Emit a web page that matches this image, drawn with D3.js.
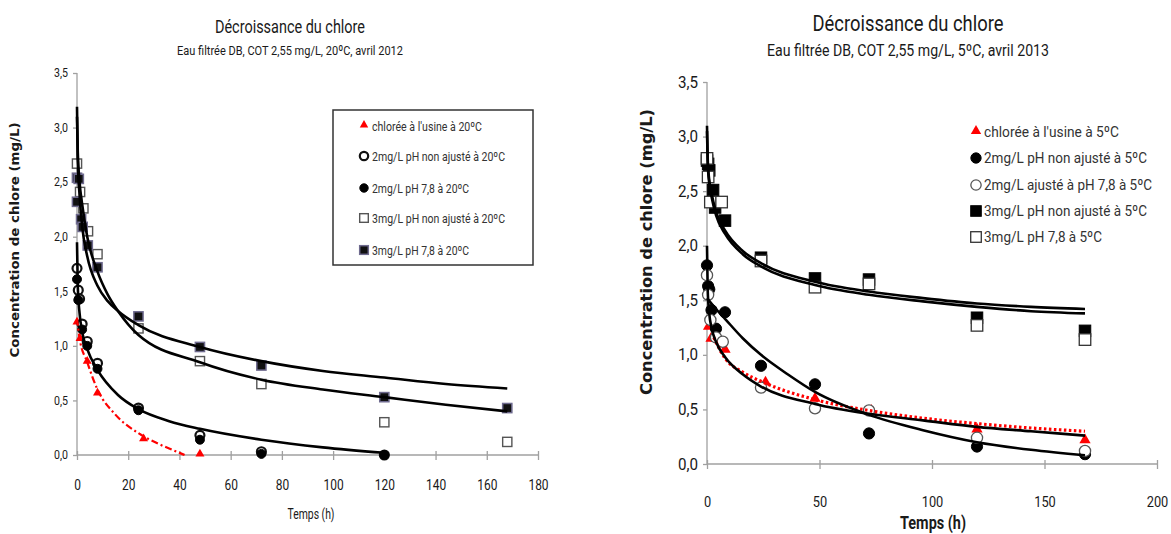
<!DOCTYPE html>
<meta charset="utf-8">
<style>
  body { margin: 0; background: #fff; }
  text { font-family: Roboto, "Liberation Sans", sans-serif; fill: #1a1a1a; }
  .axis path, .axis line { stroke: #a0a0a0; stroke-width: 1.3px; }
  .fit { fill: none; stroke: #000; stroke-width: 2.6px; }
  .ylab { font-family: "DejaVu Sans", Verdana, sans-serif; font-weight: bold; }
</style>
<svg width="1171" height="534"></svg>
<script src="https://cdn.jsdelivr.net/npm/d3@7"></script>
<script>

  // ---- 20 ºC, avril 2012 (left) ----
  var xTicks20 = [0, 20, 40, 60, 80, 100, 120, 140, 160, 180];
  var yTicks = [0, 0.5, 1, 1.5, 2, 2.5, 3, 3.5];

  var labels20 = ["chlorée à l'usine à 20ºC", "2mg/L pH non ajusté à 20ºC", "2mg/L pH 7,8 à 20ºC",
    "3mg/L pH non ajusté à 20ºC", "3mg/L pH 7,8 à 20ºC"];

  // measured points [hours, mg/L]
  var tri20 = [[0, 1.21], [1.2, 1.06], [4, 0.85], [8, 0.56], [26, 0.14], [48, 0.0]];
  var circOpen20 = [[0, 1.71], [0.5, 1.51], [1, 1.43], [2, 1.2], [4, 1.04], [8, 0.84], [24, 0.43], [48, 0.18], [72, 0.03], [120, 0.0]];
  var circFull20 = [[0, 1.61], [0.5, 1.42], [2, 1.15], [4, 1.0], [8, 0.79], [24, 0.41], [48, 0.14], [72, 0.01], [120, 0.0]];
  var sqOpen20 = [[0, 2.67], [1.2, 2.41], [2.5, 2.26], [4.3, 2.05], [8, 1.84], [24, 1.16], [48, 0.86], [72, 0.65], [120, 0.3], [168, 0.12]];
  var sqFull20 = [[0, 2.54], [0.7, 2.53], [0, 2.32], [1.6, 2.16], [2.2, 2.09], [4.2, 1.92], [8, 1.72], [24, 1.27], [48, 0.99], [72, 0.82], [120, 0.53], [168, 0.43]];

  // fitted curves
  var redFit20 = [[0, 1.25], [1, 1.07], [4, 0.85], [8, 0.6], [15, 0.37], [24, 0.2], [32, 0.1], [38, 0.04], [42, 0.0]];
  var circFit20 = [[0, 1.95], [0.3, 1.55], [1, 1.3], [2, 1.13], [4, 0.97], [8, 0.78], [16, 0.55], [24, 0.42], [36, 0.31], [48, 0.24], [72, 0.14], [96, 0.07], [120, 0.02]];
  var sqFitA20 = [[0, 3.19], [0.3, 2.7], [1, 2.38], [2, 2.1], [4, 1.82], [8, 1.55], [12, 1.41], [16, 1.32], [24, 1.19], [48, 0.99], [72, 0.86], [96, 0.77], [120, 0.71], [144, 0.65], [168, 0.61]];
  var sqFitB20 = [[0, 3.1], [0.3, 2.78], [1, 2.5], [2, 2.3], [4, 2.0], [8, 1.68], [12, 1.47], [16, 1.32], [24, 1.1], [48, 0.85], [72, 0.69], [96, 0.6], [120, 0.53], [144, 0.46], [168, 0.40]];

  // ---- 5 ºC, avril 2013 (right) ----
  var xTicks5 = [0, 50, 100, 150, 200];

  var labels5 = ["chlorée à l'usine à 5ºC", "2mg/L pH non ajusté à 5ºC", "2mg/L ajusté à pH 7,8 à 5ºC",
    "3mg/L pH non ajusté à 5ºC", "3mg/L pH 7,8 à 5ºC"];

  var tri5 = [[0.7, 1.25], [1.8, 1.14], [4, 1.14], [8, 1.04], [26, 0.74], [48, 0.59], [73, 0.48], [120, 0.31], [168, 0.21]];
  var circFull5 = [[0, 1.82], [0.5, 1.63], [1, 1.6], [2, 1.41], [4, 1.24], [8, 1.39], [24, 0.90], [48, 0.73], [72, 0.28], [120, 0.16], [168, 0.09]];
  var circOpen5 = [[0, 1.73], [0.5, 1.55], [1.5, 1.32], [4, 1.16], [7, 1.12], [24, 0.70], [48, 0.51], [72, 0.49], [120, 0.24], [168, 0.12]];
  var sqFull5 = [[0, 2.78], [0.5, 2.75], [1, 2.69], [2.7, 2.51], [3.6, 2.35], [8, 2.23], [24, 1.89], [48, 1.70], [72, 1.69], [120, 1.34], [168, 1.22]];
  var sqOpen5 = [[0, 2.80], [0.5, 2.63], [1.5, 2.4], [6.5, 2.4], [24, 1.86], [48, 1.62], [72, 1.65], [120, 1.27], [168, 1.14]];

  var redFit5 = [[3, 1.16], [8, 0.97], [16, 0.84], [26, 0.74], [48, 0.59], [72, 0.49], [96, 0.42], [120, 0.37], [144, 0.33], [168, 0.30]];
  var expFit5 = [[0, 1.52], [4, 1.42], [8, 1.33], [16, 1.15], [24, 1.0], [36, 0.82], [48, 0.66], [72, 0.45], [96, 0.31], [120, 0.2], [144, 0.13], [168, 0.08]];
  var powFit5 = [[0, 2.0], [0.3, 1.6], [1, 1.38], [2, 1.25], [4, 1.12], [8, 0.98], [16, 0.82], [24, 0.71], [48, 0.55], [72, 0.46], [96, 0.4], [120, 0.34], [144, 0.3], [168, 0.26]];
  var sqFitA5 = [[0, 3.1], [0.3, 2.8], [1, 2.6], [2, 2.48], [4, 2.31], [8, 2.14], [16, 1.95], [24, 1.84], [48, 1.67], [72, 1.58], [96, 1.52], [120, 1.47], [144, 1.44], [168, 1.42]];
  var sqFitB5 = [[0, 3.05], [0.3, 2.77], [1, 2.57], [2, 2.45], [4, 2.28], [8, 2.11], [16, 1.92], [24, 1.81], [48, 1.64], [72, 1.55], [96, 1.49], [120, 1.44], [144, 1.4], [168, 1.38]];

  var svg = d3.select("svg");
  var commaFmt = function (d) { return d.toFixed(1).replace(".", ","); };

  var panels = [
    {
      left: 77, right: 538, top: 73, bottom: 455, xDomain: [0, 180], xTicks: xTicks20,
      title: "Décroissance du chlore", titleY: 33, titleSize: 18, titleLen: 150,
      subtitle: "Eau filtrée DB, COT 2,55 mg/L, 20ºC, avril 2012", subY: 55, subSize: 13.5, subLen: 226, cx: 290,
      tickSize: 11, tickLen: 14, xTickSize: 14, xTickY: 490,
      xlab: { x: 311, y: 519, size: 14, bold: false, len: 47 },
      ylab: { x: 19, y: 240, size: 11.5, len: 235 },
      legendBox: [333, 110, 200, 155], legendX: 364, legendY: [126, 156, 188, 218, 250], legendSize: 13,
      legendLen: [110, 133, 97, 133, 97],
      markScale: 0.8, legendMark: 0.75,
      series: [
        { data: tri20, shape: "tri", fill: "#f00", stroke: "none", label: labels20[0] },
        { data: circOpen20, shape: "circle", fill: "#fff", stroke: "#111", sw: 2.2, label: labels20[1] },
        { data: circFull20, shape: "circle", fill: "#000", stroke: "#000", sw: 1, label: labels20[2] },
        { data: sqOpen20, shape: "square", fill: "#fff", stroke: "#555", sw: 1.4, label: labels20[3] },
        { data: sqFull20, shape: "square", fill: "#111", stroke: "#6e6a8e", sw: 1.5, label: labels20[4] }
      ],
      fits: [
        { data: redFit20, stroke: "#f00", dash: "7,3,2,3", width: 2.2 },
        { data: circFit20 }, { data: sqFitA20 }, { data: sqFitB20 }
      ]
    },
    {
      left: 707, right: 1157, top: 82, bottom: 464, xDomain: [0, 200], xTicks: xTicks5,
      title: "Décroissance du chlore", titleY: 31, titleSize: 22, titleLen: 191,
      subtitle: "Eau filtrée DB, COT 2,55 mg/L, 5ºC, avril 2013", subY: 56, subSize: 16.5, subLen: 282, cx: 908,
      tickSize: 15, tickLen: 20, xTickSize: 15, xTickY: 507,
      xlab: { x: 933, y: 529, size: 17.5, bold: true, len: 66 },
      ylab: { x: 652, y: 252, size: 15, len: 286 },
      legendBox: null, legendX: 976, legendY: [132, 158, 185, 211, 237], legendSize: 15,
      legendLen: [135, 163, 168, 163, 118],
      markScale: 1, legendMark: 0.92,
      series: [
        { data: tri5, shape: "tri", fill: "#f00", stroke: "none", label: labels5[0] },
        { data: circFull5, shape: "circle", fill: "#000", stroke: "#000", sw: 1, label: labels5[1] },
        { data: circOpen5, shape: "circle", fill: "#fff", stroke: "#555", sw: 1.3, label: labels5[2] },
        { data: sqFull5, shape: "square", fill: "#000", stroke: "#000", sw: 1, label: labels5[3] },
        { data: sqOpen5, shape: "square", fill: "#fff", stroke: "#333", sw: 1.3, label: labels5[4] }
      ],
      fits: [
        { data: redFit5, stroke: "#f00", dash: "2.5,2.5", width: 3.2 },
        { data: expFit5 }, { data: powFit5 }, { data: sqFitA5 }, { data: sqFitB5 }
      ]
    }
  ];

  panels.forEach(drawPanel);

  function drawMark(g, shape, s, px, py) {
    var m;
    if (shape === "tri") {
      m = g.append("path").attr("d", d3.symbol().type(d3.symbolTriangle).size(55 * s * s)())
        .attr("transform", "translate(" + px + "," + (py - 1) + ")");
    } else if (shape === "circle") {
      m = g.append("circle").attr("cx", px).attr("cy", py).attr("r", 5.6 * s);
    } else {
      var w = 11.5 * s;
      m = g.append("rect").attr("x", px - w / 2).attr("y", py - w / 2).attr("width", w).attr("height", w);
    }
    return m;
  }

  function fitText(sel, len) {
    return sel.attr("textLength", len).attr("lengthAdjust", "spacingAndGlyphs");
  }

  function drawPanel(p) {
    var x = d3.scaleLinear().domain(p.xDomain).range([p.left, p.right]);
    var y = d3.scaleLinear().domain([0, 3.5]).range([p.bottom, p.top]);
    var g = svg.append("g");

    // titles
    fitText(g.append("text").attr("x", p.cx).attr("y", p.titleY).attr("text-anchor", "middle")
      .style("font-size", p.titleSize + "px").text(p.title), p.titleLen);
    fitText(g.append("text").attr("x", p.cx).attr("y", p.subY).attr("text-anchor", "middle")
      .style("font-size", p.subSize + "px").text(p.subtitle), p.subLen);

    // axes
    var ax = g.append("g").attr("class", "axis")
      .attr("transform", "translate(0," + p.bottom + ")")
      .call(d3.axisBottom(x).tickValues(p.xTicks).tickSize(5).tickSizeOuter(0).tickFormat(d3.format("d")));
    ax.selectAll(".tick line").attr("y1", -4);
    ax.selectAll(".tick text").attr("y", null).attr("dy", null)
      .attr("transform", "translate(0," + (p.xTickY - p.bottom) + ")")
      .style("font-size", p.xTickSize + "px").style("fill", "#1a1a1a")
      .each(function () {
        var t = d3.select(this);
        fitText(t, t.text().length * p.xTickSize * 0.48);
      });
    ax.select(".domain").attr("d", "M" + p.left + ",0H" + p.right);

    var ay = g.append("g").attr("class", "axis")
      .attr("transform", "translate(" + p.left + ",0)")
      .call(d3.axisLeft(y).tickValues(yTicks).tickSize(4).tickSizeOuter(0).tickFormat(commaFmt));
    ay.selectAll(".tick text").attr("x", -9).style("font-size", (p.tickSize + 1) + "px").style("fill", "#1a1a1a")
      .each(function () { fitText(d3.select(this), p.tickLen); });
    ay.select(".domain").attr("d", "M0," + p.bottom + "V" + p.top);

    // axis titles
    fitText(g.append("text").attr("x", p.xlab.x).attr("y", p.xlab.y).attr("text-anchor", "middle")
      .style("font-size", p.xlab.size + "px").style("font-weight", p.xlab.bold ? "bold" : "normal")
      .text("Temps (h)"), p.xlab.len);
    fitText(g.append("text").attr("class", "ylab")
      .attr("transform", "translate(" + p.ylab.x + "," + p.ylab.y + ") rotate(-90)")
      .attr("text-anchor", "middle")
      .style("font-size", p.ylab.size + "px")
      .text("Concentration de chlore (mg/L)"), p.ylab.len);

    // markers
    p.series.forEach(function (s) {
      var sg = g.append("g");
      s.data.forEach(function (d) {
        drawMark(sg, s.shape, p.markScale, x(d[0]), y(d[1]))
          .attr("fill", s.fill).attr("stroke", s.stroke).attr("stroke-width", s.sw || 0);
      });
    });

    // fitted curves
    var line = d3.line().curve(d3.curveMonotoneX)
      .x(function (d) { return x(d[0]); })
      .y(function (d) { return y(d[1]); });
    p.fits.forEach(function (f) {
      g.append("path").attr("class", "fit").attr("d", line(f.data))
        .style("stroke", f.stroke || "#000")
        .style("stroke-dasharray", f.dash || null)
        .style("stroke-width", (f.width || 2.6) + "px");
    });

    // legend
    if (p.legendBox) {
      g.append("rect").attr("x", p.legendBox[0]).attr("y", p.legendBox[1])
        .attr("width", p.legendBox[2]).attr("height", p.legendBox[3])
        .attr("fill", "#fff").attr("stroke", "#333").attr("stroke-width", 1.5);
    }
    p.series.forEach(function (s, i) {
      var ly = p.legendY[i];
      drawMark(g, s.shape, p.legendMark, p.legendX, ly)
        .attr("fill", s.fill).attr("stroke", s.stroke).attr("stroke-width", s.sw || 0);
      fitText(g.append("text").attr("x", p.legendX + 8).attr("y", ly).attr("dy", "0.35em")
        .style("font-size", p.legendSize + "px").style("fill", "#333").text(s.label), p.legendLen[i]);
    });
  }

</script>
